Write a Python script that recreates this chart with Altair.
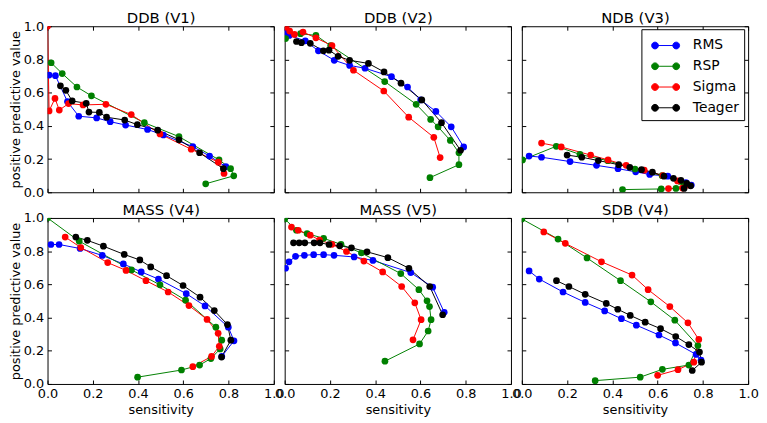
import altair as alt
import pandas as pd

METHODS = ["RMS", "RSP", "Sigma", "Teager"]
COLORS = ["#0000ff", "#008000", "#ff0000", "#000000"]
PANELS = ["DDB (V1)", "DDB (V2)", "NDB (V3)", "MASS (V4)", "MASS (V5)", "SDB (V4)"]
TICKS = [0.0, 0.2, 0.4, 0.6, 0.8, 1.0]

# ---- DDB (V1)
v1_rms_x = [0.007, 0.035, 0.088, 0.138, 0.217, 0.277, 0.345, 0.442, 0.512, 0.642, 0.716, 0.788]
v1_rms_y = [0.706, 0.702, 0.546, 0.458, 0.448, 0.425, 0.405, 0.378, 0.345, 0.275, 0.218, 0.154]
v1_rsp_x = [0.016, 0.065, 0.130, 0.194, 0.428, 0.581, 0.758, 0.809, 0.823, 0.699]
v1_rsp_y = [0.780, 0.715, 0.634, 0.581, 0.419, 0.335, 0.195, 0.142, 0.099, 0.051]
v1_sig_x = [0.000, 0.007, 0.033, 0.052, 0.093, 0.157, 0.258, 0.370, 0.497, 0.635, 0.755, 0.780]
v1_sig_y = [1.000, 0.490, 0.565, 0.495, 0.534, 0.526, 0.530, 0.468, 0.351, 0.259, 0.181, 0.113]
v1_tea_x = [0.057, 0.081, 0.109, 0.171, 0.183, 0.229, 0.261, 0.341, 0.397, 0.487, 0.581, 0.672, 0.777]
v1_tea_y = [0.641, 0.614, 0.550, 0.536, 0.483, 0.481, 0.452, 0.435, 0.407, 0.374, 0.316, 0.238, 0.142]

# ---- DDB (V2)
v2_rms_x = [0.003, 0.020, 0.091, 0.149, 0.219, 0.287, 0.355, 0.472, 0.543, 0.601, 0.668, 0.736, 0.791]
v2_rms_y = [0.965, 0.945, 0.912, 0.852, 0.795, 0.764, 0.747, 0.696, 0.634, 0.556, 0.487, 0.394, 0.273]
v2_rsp_x = [0.004, 0.070, 0.138, 0.203, 0.442, 0.581, 0.645, 0.678, 0.732, 0.770, 0.770, 0.642]
v2_rsp_y = [0.926, 0.955, 0.945, 0.883, 0.667, 0.530, 0.439, 0.394, 0.312, 0.238, 0.166, 0.088]
v2_sig_x = [0.006, 0.022, 0.043, 0.081, 0.138, 0.209, 0.304, 0.438, 0.548, 0.659, 0.687]
v2_sig_y = [0.994, 0.971, 0.951, 0.965, 0.930, 0.883, 0.735, 0.610, 0.452, 0.331, 0.209]
v2_tea_x = [0.052, 0.074, 0.113, 0.171, 0.196, 0.236, 0.287, 0.370, 0.439, 0.514, 0.606, 0.693, 0.777]
v2_tea_y = [0.908, 0.901, 0.897, 0.852, 0.856, 0.819, 0.795, 0.776, 0.725, 0.657, 0.556, 0.419, 0.253]

# ---- NDB (V3)
v3_rms_x = [0.032, 0.087, 0.213, 0.330, 0.425, 0.503, 0.565, 0.645, 0.725, 0.749]
v3_rms_y = [0.218, 0.211, 0.185, 0.162, 0.142, 0.123, 0.107, 0.097, 0.058, 0.043]
v3_rsp_x = [0.003, 0.152, 0.257, 0.380, 0.500, 0.620, 0.700, 0.717, 0.681, 0.616, 0.445]
v3_rsp_y = [0.195, 0.277, 0.228, 0.190, 0.140, 0.100, 0.065, 0.043, 0.023, 0.020, 0.016]
v3_sig_x = [0.087, 0.174, 0.304, 0.381, 0.461, 0.541, 0.623, 0.688, 0.732, 0.710, 0.648]
v3_sig_y = [0.296, 0.273, 0.224, 0.195, 0.162, 0.133, 0.101, 0.068, 0.043, 0.025, 0.022]
v3_tea_x = [0.200, 0.265, 0.338, 0.428, 0.477, 0.529, 0.577, 0.628, 0.670, 0.703, 0.729, 0.746, 0.717]
v3_tea_y = [0.224, 0.211, 0.191, 0.166, 0.150, 0.136, 0.121, 0.097, 0.084, 0.072, 0.053, 0.039, 0.023]

# ---- MASS (V4)
v4_rms_x = [0.015, 0.051, 0.144, 0.242, 0.335, 0.414, 0.490, 0.613, 0.696, 0.799, 0.824, 0.770]
v4_rms_y = [0.840, 0.840, 0.816, 0.774, 0.723, 0.675, 0.632, 0.544, 0.470, 0.342, 0.260, 0.166]
v4_rsp_x = [0.000, 0.140, 0.371, 0.497, 0.610, 0.744, 0.770, 0.763, 0.722, 0.672, 0.592, 0.398]
v4_rsp_y = [1.000, 0.860, 0.687, 0.597, 0.505, 0.342, 0.264, 0.211, 0.153, 0.114, 0.084, 0.041]
v4_sig_x = [0.078, 0.147, 0.266, 0.347, 0.435, 0.533, 0.625, 0.705, 0.754, 0.759, 0.725, 0.642]
v4_sig_y = [0.885, 0.822, 0.731, 0.684, 0.622, 0.554, 0.472, 0.389, 0.305, 0.227, 0.166, 0.104]
v4_tea_x = [0.125, 0.176, 0.247, 0.339, 0.408, 0.456, 0.526, 0.599, 0.674, 0.737, 0.795, 0.810, 0.769]
v4_tea_y = [0.885, 0.865, 0.830, 0.780, 0.747, 0.705, 0.652, 0.593, 0.523, 0.442, 0.358, 0.264, 0.162]

# ---- MASS (V5)
v5_rms_x = [0.004, 0.019, 0.048, 0.087, 0.128, 0.172, 0.218, 0.307, 0.390, 0.557, 0.654, 0.705]
v5_rms_y = [0.697, 0.736, 0.769, 0.775, 0.779, 0.779, 0.775, 0.765, 0.744, 0.671, 0.583, 0.432]
v5_rsp_x = [0.000, 0.052, 0.099, 0.172, 0.249, 0.339, 0.513, 0.593, 0.629, 0.640, 0.647, 0.634, 0.596, 0.443]
v5_rsp_y = [0.994, 0.926, 0.906, 0.877, 0.841, 0.789, 0.665, 0.568, 0.501, 0.466, 0.387, 0.319, 0.241, 0.137]
v5_sig_x = [0.030, 0.060, 0.113, 0.154, 0.209, 0.273, 0.350, 0.433, 0.517, 0.575, 0.603, 0.567]
v5_sig_y = [0.945, 0.926, 0.896, 0.867, 0.841, 0.798, 0.740, 0.675, 0.587, 0.489, 0.387, 0.266]
v5_tea_x = [0.039, 0.064, 0.089, 0.130, 0.156, 0.196, 0.243, 0.295, 0.364, 0.456, 0.549, 0.641, 0.698]
v5_tea_y = [0.850, 0.850, 0.850, 0.850, 0.850, 0.840, 0.832, 0.820, 0.796, 0.761, 0.697, 0.587, 0.417]

# ---- SDB (V4)
s4_rms_x = [0.032, 0.077, 0.182, 0.280, 0.366, 0.440, 0.506, 0.606, 0.679, 0.770, 0.792]
s4_rms_y = [0.681, 0.632, 0.554, 0.491, 0.440, 0.393, 0.354, 0.295, 0.247, 0.178, 0.143]
s4_rsp_x = [0.000, 0.160, 0.288, 0.436, 0.570, 0.676, 0.778, 0.738, 0.621, 0.523, 0.324]
s4_rsp_y = [0.994, 0.873, 0.759, 0.622, 0.495, 0.384, 0.231, 0.114, 0.088, 0.041, 0.020]
s4_sig_x = [0.097, 0.192, 0.352, 0.487, 0.558, 0.654, 0.734, 0.782, 0.760, 0.690, 0.600]
s4_sig_y = [0.916, 0.847, 0.736, 0.656, 0.568, 0.466, 0.368, 0.268, 0.131, 0.086, 0.052]
s4_tea_x = [0.153, 0.208, 0.280, 0.373, 0.424, 0.479, 0.545, 0.613, 0.680, 0.738, 0.785, 0.794, 0.753]
s4_tea_y = [0.622, 0.587, 0.540, 0.485, 0.450, 0.413, 0.372, 0.333, 0.286, 0.237, 0.192, 0.131, 0.081]

SERIES = {
    "DDB (V1)": [(v1_rms_x, v1_rms_y), (v1_rsp_x, v1_rsp_y), (v1_sig_x, v1_sig_y), (v1_tea_x, v1_tea_y)],
    "DDB (V2)": [(v2_rms_x, v2_rms_y), (v2_rsp_x, v2_rsp_y), (v2_sig_x, v2_sig_y), (v2_tea_x, v2_tea_y)],
    "NDB (V3)": [(v3_rms_x, v3_rms_y), (v3_rsp_x, v3_rsp_y), (v3_sig_x, v3_sig_y), (v3_tea_x, v3_tea_y)],
    "MASS (V4)": [(v4_rms_x, v4_rms_y), (v4_rsp_x, v4_rsp_y), (v4_sig_x, v4_sig_y), (v4_tea_x, v4_tea_y)],
    "MASS (V5)": [(v5_rms_x, v5_rms_y), (v5_rsp_x, v5_rsp_y), (v5_sig_x, v5_sig_y), (v5_tea_x, v5_tea_y)],
    "SDB (V4)": [(s4_rms_x, s4_rms_y), (s4_rsp_x, s4_rsp_y), (s4_sig_x, s4_sig_y), (s4_tea_x, s4_tea_y)],
}

rows = []
for panel in PANELS:
    for m, (xs, ys) in zip(METHODS, SERIES[panel]):
        for i, (a, b) in enumerate(zip(xs, ys)):
            rows.append({"panel": panel, "method": m, "idx": i, "sens": a, "ppv": b})
df = pd.DataFrame(rows)

FONT = "DejaVu Sans"
W, H = 229, 168
INWARD = {"expr": "-4"}
cscale = alt.Scale(domain=METHODS, range=COLORS)
LEG_PATH = ("M-1,0L1,0"
            "M-1.32,0A0.32,0.32 0 1,0 -0.68,0A0.32,0.32 0 1,0 -1.32,0Z"
            "M0.68,0A0.32,0.32 0 1,0 1.32,0A0.32,0.32 0 1,0 0.68,0Z")
LEG = alt.Legend(title=None, orient="none", legendX=601, legendY=3,
                 symbolType=LEG_PATH, symbolSize=460, symbolStrokeWidth=1,
                 symbolOpacity=1, labelFont=FONT, labelFontSize=14, labelColor="black",
                 strokeColor="black", fillColor="white", padding=5, rowPadding=2,
                 symbolOffset=8, labelOffset=16, cornerRadius=0)


def axis(orient, labels, title, title_size=13, title_pad=1):
    kw = dict(orient=orient, values=TICKS, format=".1f", domain=False, grid=False,
              ticks=True, tickColor="black", tickWidth=1, tickSize=INWARD,
              labels=labels, labelFont=FONT, labelFontSize=13, labelColor="black",
              labelFlush=False, labelOverlap=False, labelPadding=8 if labels else 0,
              minExtent=0,
              titleFont=FONT, titleFontSize=title_size, titleFontWeight="normal",
              titleColor="black")
    if title:
        kw["title"] = title
        kw["titlePadding"] = title_pad
    else:
        kw["title"] = None
    return alt.Axis(**kw)


def panel(name, xlab, ylab):
    d = df[df["panel"] == name]
    xs = alt.Scale(domain=[0, 1], nice=False, zero=False)
    ys = alt.Scale(domain=[0, 1], nice=False, zero=False)
    base = alt.Chart(d)
    lines = base.mark_line(strokeWidth=1, clip=True).encode(
        x=alt.X("sens:Q", scale=xs,
                axis=axis("bottom", xlab, "sensitivity" if xlab else None, title_pad=3)),
        y=alt.Y("ppv:Q", scale=ys,
                axis=axis("left", ylab, "positive predictive value" if ylab else None)),
        stroke=alt.Stroke("method:N", scale=cscale, legend=LEG),
        detail="method:N",
        order="idx:Q",
    )
    pts = base.mark_circle(size=46, opacity=1, clip=True).encode(
        x=alt.X("sens:Q", scale=xs, axis=None),
        y=alt.Y("ppv:Q", scale=ys, axis=None),
        fill=alt.Fill("method:N", scale=cscale, legend=LEG),
    )
    frame = base.mark_point(opacity=0, clip=True).encode(
        x=alt.X("sens:Q", scale=xs, axis=axis("top", False, name, title_size=15, title_pad=0)),
        y=alt.Y("ppv:Q", scale=ys, axis=axis("right", False, None)),
    )
    return alt.layer(lines, pts, frame).resolve_scale(x="independent", y="independent").properties(
        width=W, height=H,
    )


panels = [panel("DDB (V1)", False, True), panel("DDB (V2)", False, False),
          panel("NDB (V3)", False, False), panel("MASS (V4)", True, True),
          panel("MASS (V5)", True, False), panel("SDB (V4)", True, False)]

chart = alt.concat(*panels, columns=3, spacing={"row": 26, "column": 11}, bounds="flush").properties(
    padding={"left": 0, "top": 0, "right": 0, "bottom": 0},
    background="white",
).configure_view(stroke="black", strokeWidth=1)

chart.save("out.html", embed_options={"renderer": "svg", "actions": False})
